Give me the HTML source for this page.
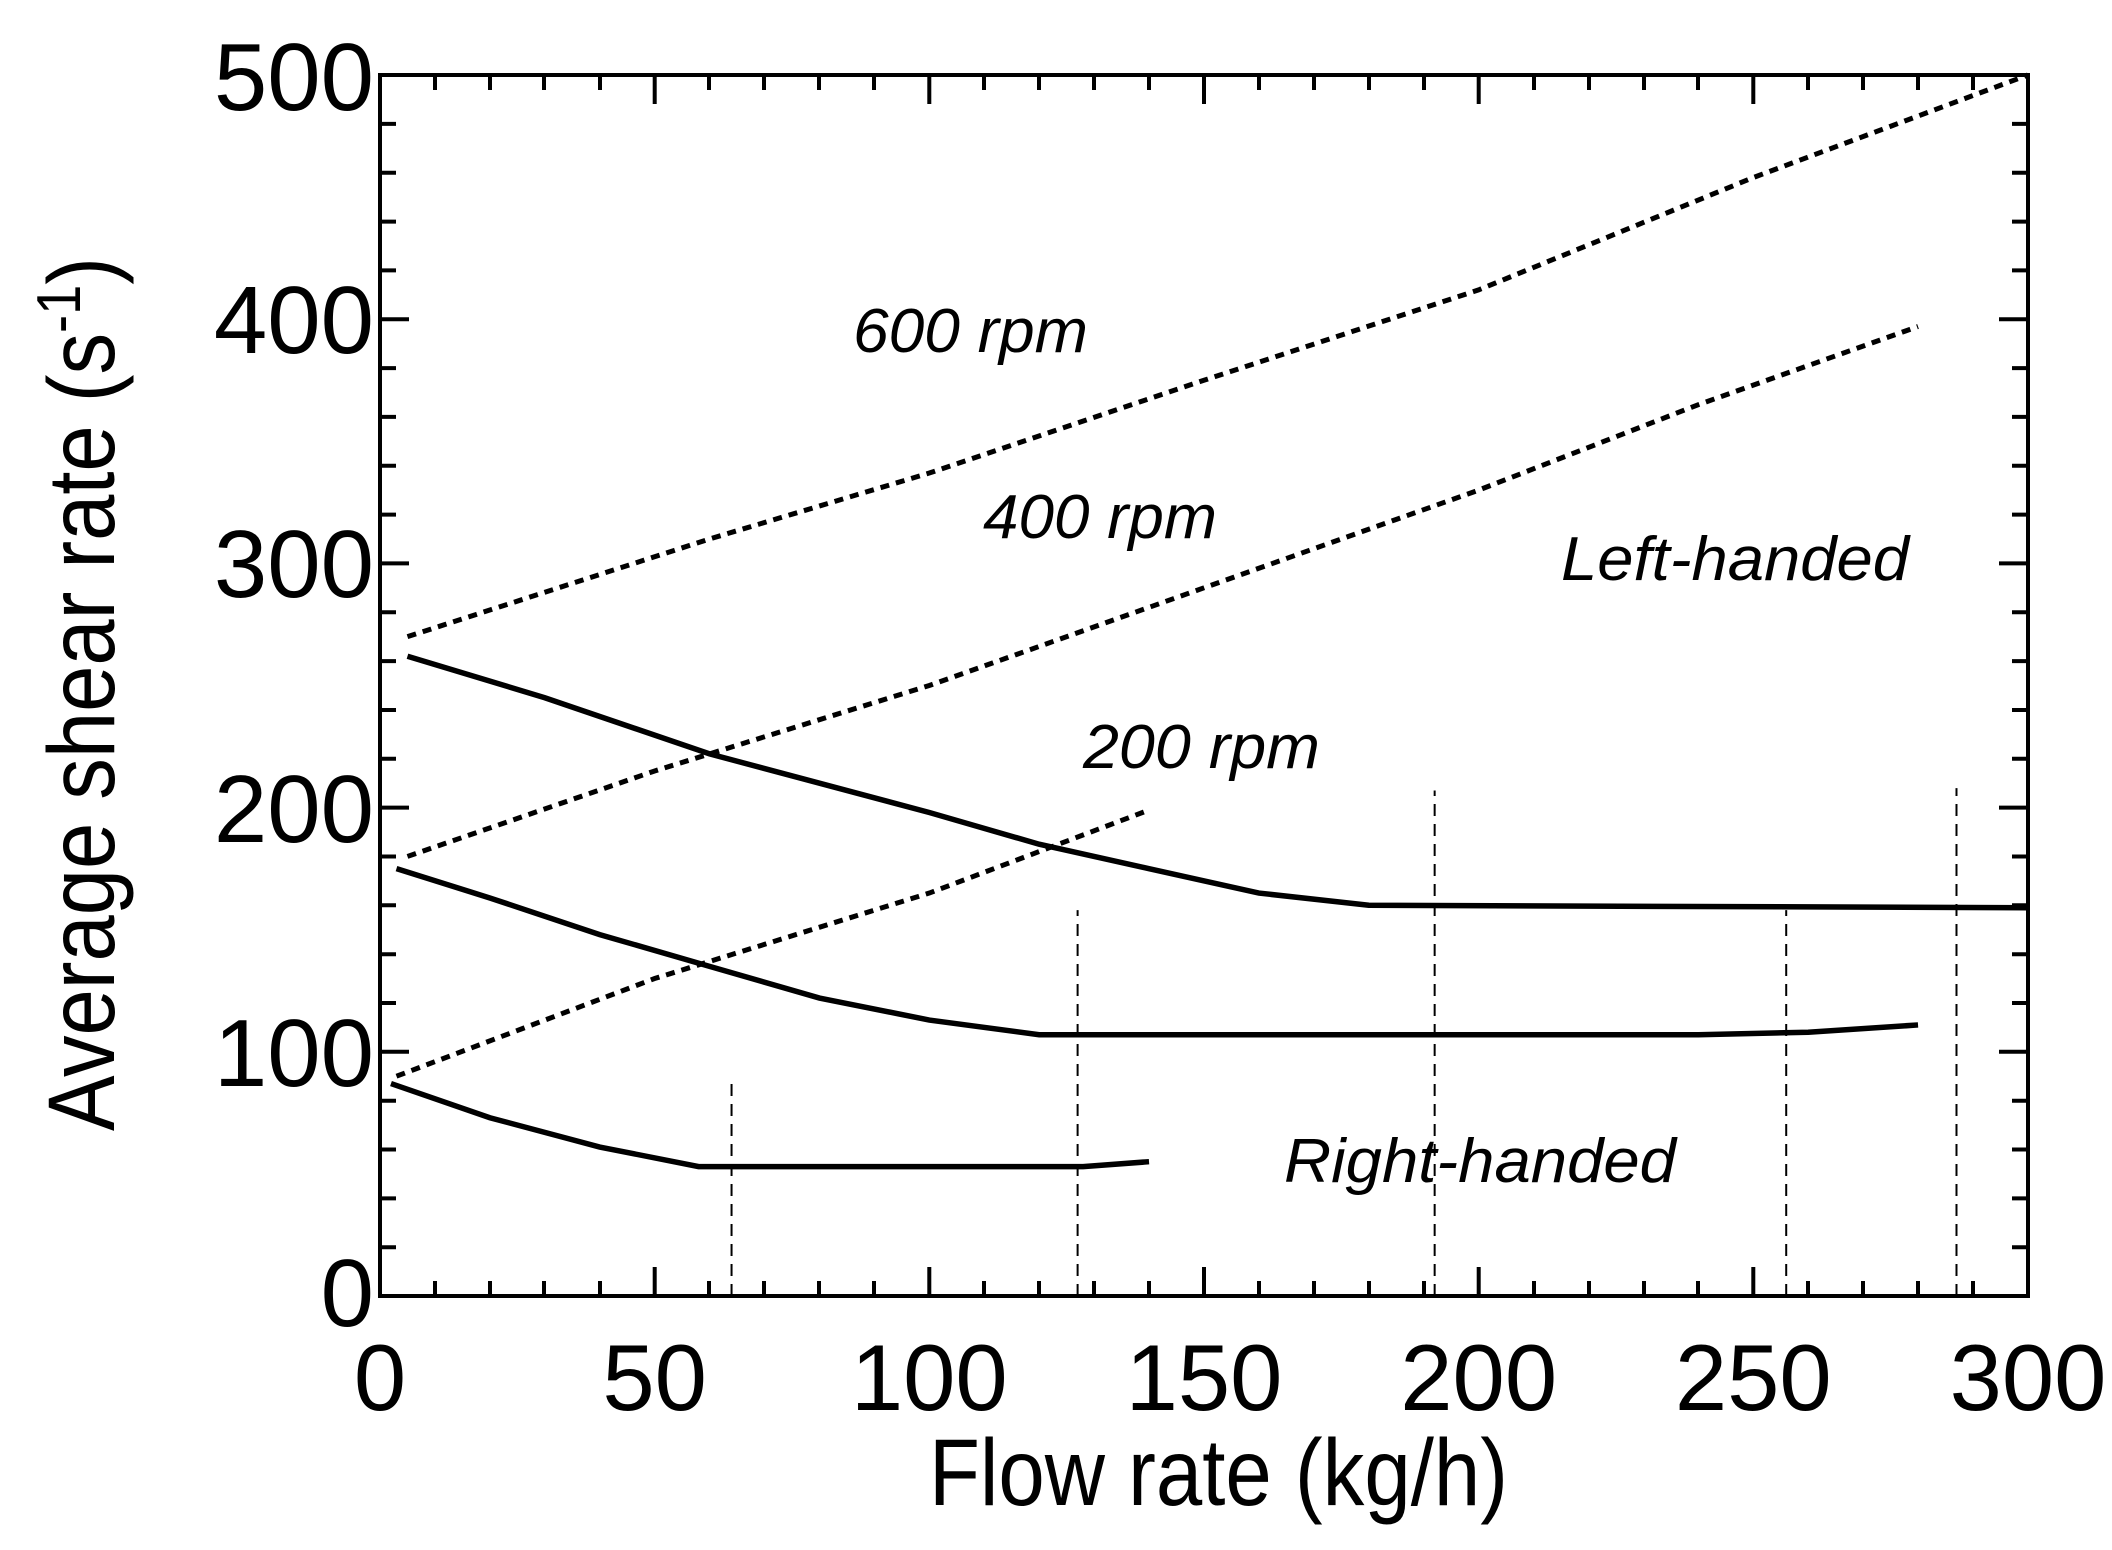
<!DOCTYPE html>
<html><head><style>html,body{margin:0;padding:0;background:#fff}</style></head>
<body>
<svg width="2112" height="1545" viewBox="0 0 2112 1545" xmlns="http://www.w3.org/2000/svg" font-family="Liberation Sans, sans-serif">
<rect width="2112" height="1545" fill="#fff"/>
<g stroke="#000" stroke-width="4" fill="none">
<rect x="380" y="75" width="1648" height="1221"/>
<path d="M380,1296v-29M380,75v29M654.7,1296v-29M654.7,75v29M929.3,1296v-29M929.3,75v29M1204,1296v-29M1204,75v29M1478.7,1296v-29M1478.7,75v29M1753.3,1296v-29M1753.3,75v29M2028,1296v-29M2028,75v29"/>
<path d="M435,1296v-15M490,1296v-15M544,1296v-15M600,1296v-15M709,1296v-15M764,1296v-15M819,1296v-15M874,1296v-15M984,1296v-15M1039,1296v-15M1094,1296v-15M1149,1296v-15M1259,1296v-15M1314,1296v-15M1369,1296v-15M1424,1296v-15M1534,1296v-15M1589,1296v-15M1644,1296v-15M1698,1296v-15M1808,1296v-15M1863,1296v-15M1918,1296v-15M1973,1296v-15
M435,75v15M490,75v15M544,75v15M600,75v15M709,75v15M764,75v15M819,75v15M874,75v15M984,75v15M1039,75v15M1094,75v15M1149,75v15M1259,75v15M1314,75v15M1369,75v15M1424,75v15M1534,75v15M1589,75v15M1644,75v15M1698,75v15M1808,75v15M1863,75v15M1918,75v15M1973,75v15"/>
<path d="M380,1051.8h29M2028,1051.8h-29M380,807.6h29M2028,807.6h-29M380,563.4h29M2028,563.4h-29M380,319.2h29M2028,319.2h-29"/>
<path d="M380,1247.2h16M380,1198.4h16M380,1149.5h16M380,1100.7h16M380,1003h16M380,954.2h16M380,905.3h16M380,856.5h16M380,758.8h16M380,710h16M380,661.1h16M380,612.3h16M380,514.6h16M380,465.8h16M380,416.9h16M380,368.1h16M380,270.4h16M380,221.6h16M380,172.7h16M380,123.9h16
M2028,1247.2h-16M2028,1198.4h-16M2028,1149.5h-16M2028,1100.7h-16M2028,1003h-16M2028,954.2h-16M2028,905.3h-16M2028,856.5h-16M2028,758.8h-16M2028,710h-16M2028,661.1h-16M2028,612.3h-16M2028,514.6h-16M2028,465.8h-16M2028,416.9h-16M2028,368.1h-16M2028,270.4h-16M2028,221.6h-16M2028,172.7h-16M2028,123.9h-16"/>
</g>
<g transform="translate(380,1296) scale(5.493,-2.442)" fill="none" stroke="#000">
<g stroke-width="5">
<path vector-effect="non-scaling-stroke" stroke-dasharray="9 7" d="M5,270 L60,310 L100,337 L150,375 L200,412 L250,458 L300,500"/>
<path vector-effect="non-scaling-stroke" stroke-dasharray="9 7" d="M5,180 L50,215 L100,250 L150,290 L200,330 L240,365 L280,397"/>
<path vector-effect="non-scaling-stroke" stroke-dasharray="9 7" d="M3,90 L50,130 L100,165 L140,199"/>
</g>
<g stroke-width="5.5">
<path vector-effect="non-scaling-stroke" d="M5,262 L30,245 L60,222 L100,198 L120,185 L140,175 L160,165 L180,160 L300,159"/>
<path vector-effect="non-scaling-stroke" d="M3,175 L20,163 L40,148 L60,135 L80,122 L100,113 L120,107 L240,107 L260,108 L280,111"/>
<path vector-effect="non-scaling-stroke" d="M2,87 L20,73 L40,61 L58,53 L128,53 L140,55"/>
</g>
<g stroke-width="2">
<path vector-effect="non-scaling-stroke" stroke-dasharray="12 8" d="M64,0V87M127,0V158M192,0V207M256,0V158M287,0V208"/>
</g>
</g>
<g font-size="96" text-anchor="end">
<text x="374" y="1326">0</text>
<text x="374" y="1086">100</text>
<text x="374" y="842">200</text>
<text x="374" y="597">300</text>
<text x="374" y="353">400</text>
<text x="374" y="110">500</text>
</g>
<g font-size="94" text-anchor="middle">
<text x="380" y="1410">0</text>
<text x="654.7" y="1410">50</text>
<text x="929.3" y="1410">100</text>
<text x="1204" y="1410">150</text>
<text x="1478.7" y="1410">200</text>
<text x="1753.3" y="1410">250</text>
<text x="2028" y="1410">300</text>
</g>
<text x="929" y="1505" font-size="95" textLength="579" lengthAdjust="spacingAndGlyphs">Flow rate (kg/h)</text>
<text transform="translate(114,1131) rotate(-90)" font-size="95" textLength="874" lengthAdjust="spacingAndGlyphs">Average shear rate (s<tspan dy="-34" font-size="62">-1</tspan><tspan dy="34">)</tspan></text>
<g font-size="62" font-style="italic">
<text x="853" y="352" textLength="235" lengthAdjust="spacingAndGlyphs">600 rpm</text>
<text x="983" y="538" textLength="234" lengthAdjust="spacingAndGlyphs">400 rpm</text>
<text x="1083" y="768" textLength="237" lengthAdjust="spacingAndGlyphs">200 rpm</text>
<text x="1561" y="580" textLength="348" lengthAdjust="spacingAndGlyphs">Left-handed</text>
<text x="1284" y="1182" textLength="392" lengthAdjust="spacingAndGlyphs">Right-handed</text>
</g>
</svg>
</body></html>
